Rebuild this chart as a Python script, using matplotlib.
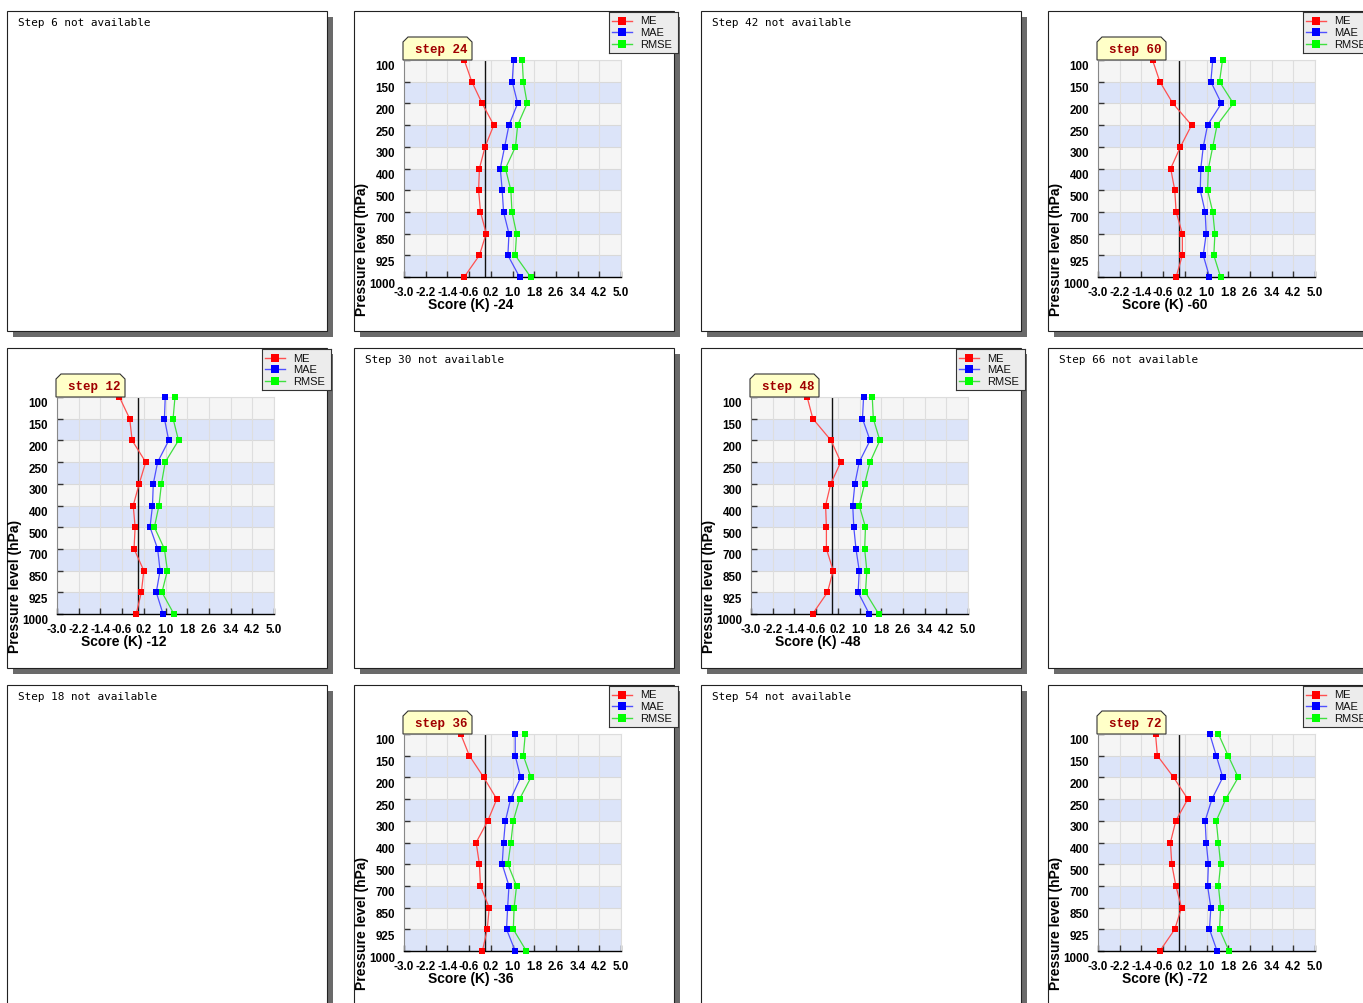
import matplotlib
matplotlib.use('Agg')
import matplotlib.pyplot as plt
import matplotlib.transforms as mtransforms
from matplotlib.patches import Rectangle, Polygon

plt.rcParams['font.family'] = ['Liberation Sans', 'DejaVu Sans']
plt.rcParams['axes.unicode_minus'] = False

#--Data--#
levels = ['100', '150', '200', '250', '300', '400', '500', '700', '850', '925', '1000']
x_ticks = [-3.0, -2.2, -1.4, -0.6, 0.2, 1.0, 1.8, 2.6, 3.4, 4.2, 5.0]
series_names = ['ME', 'MAE', 'RMSE']
series_colors = ['#ff0000', '#0000ff', '#00ff00']
line_colors = ['#ff5050', '#5050ff', '#40e040']

me_12 = [-0.70, -0.32, -0.23, 0.27, 0.03, -0.19, -0.12, -0.16, 0.20, 0.11, -0.08]
mae_12 = [0.99, 0.96, 1.12, 0.71, 0.55, 0.52, 0.43, 0.71, 0.80, 0.66, 0.91]
rmse_12 = [1.35, 1.28, 1.48, 0.99, 0.85, 0.76, 0.59, 0.96, 1.07, 0.87, 1.31]

me_24 = [-0.78, -0.50, -0.12, 0.31, -0.01, -0.22, -0.25, -0.18, 0.03, -0.22, -0.78]
mae_24 = [1.04, 0.99, 1.19, 0.87, 0.71, 0.55, 0.62, 0.67, 0.87, 0.83, 1.26]
rmse_24 = [1.36, 1.40, 1.54, 1.19, 1.11, 0.74, 0.94, 0.98, 1.15, 1.10, 1.67]

me_36 = [-0.91, -0.59, -0.06, 0.42, 0.09, -0.34, -0.22, -0.18, 0.14, 0.07, -0.11]
mae_36 = [1.10, 1.10, 1.30, 0.93, 0.74, 0.67, 0.62, 0.87, 0.82, 0.78, 1.10]
rmse_36 = [1.47, 1.40, 1.68, 1.26, 1.03, 0.94, 0.83, 1.15, 1.06, 1.03, 1.51]

me_48 = [-0.93, -0.72, -0.05, 0.31, -0.06, -0.25, -0.22, -0.22, 0.03, -0.18, -0.73]
mae_48 = [1.15, 1.11, 1.39, 0.99, 0.83, 0.75, 0.79, 0.87, 0.99, 0.95, 1.36]
rmse_48 = [1.47, 1.51, 1.75, 1.39, 1.19, 0.99, 1.22, 1.19, 1.27, 1.22, 1.71]

me_60 = [-0.99, -0.72, -0.24, 0.45, 0.04, -0.32, -0.17, -0.12, 0.11, 0.11, -0.12]
mae_60 = [1.23, 1.16, 1.55, 1.04, 0.88, 0.79, 0.77, 0.95, 0.99, 0.88, 1.11]
rmse_60 = [1.59, 1.48, 1.99, 1.39, 1.23, 1.07, 1.04, 1.23, 1.31, 1.27, 1.52]

me_72 = [-0.88, -0.81, -0.21, 0.31, -0.13, -0.33, -0.28, -0.13, 0.08, -0.17, -0.72]
mae_72 = [1.12, 1.36, 1.60, 1.20, 0.95, 0.99, 1.07, 1.04, 1.16, 1.11, 1.39]
rmse_72 = [1.44, 1.80, 2.17, 1.71, 1.36, 1.44, 1.52, 1.44, 1.52, 1.48, 1.83]

steps = [6, 12, 18, 24, 30, 36, 42, 48, 54, 60, 66, 72]
scores = {12: (me_12, mae_12, rmse_12), 24: (me_24, mae_24, rmse_24),
          36: (me_36, mae_36, rmse_36), 48: (me_48, mae_48, rmse_48),
          60: (me_60, mae_60, rmse_60), 72: (me_72, mae_72, rmse_72)}

#--Layout helpers (pixels, origin top-left)--#
W, H = 1363, 1004
fig = plt.figure(figsize=(W / 100, H / 100), dpi=100)


def frect(x, y, w, h):
    return [x / W, 1 - (y + h) / H, w / W, h / H]


def fpt(x, y):
    return (x / W, 1 - y / H)


def draw_panel(x0, y0, step):
    fig.add_artist(Rectangle(fpt(x0 + 6, y0 + 326), 320 / W, 320 / H, transform=fig.transFigure,
                             facecolor='#6a6a6a', edgecolor='none', zorder=-3))
    fig.add_artist(Rectangle(fpt(x0, y0 + 320), 320 / W, 320 / H, transform=fig.transFigure,
                             facecolor='white', edgecolor='#222222', lw=0.8, zorder=-2))

    if step not in scores:
        fig.text(*fpt(x0 + 11, y0 + 11), f'Step {step} not available', family='DejaVu Sans Mono',
                 fontsize=7.9, va='center', ha='left', color='#000000')
        return

    ypos = list(range(len(levels)))
    ax = fig.add_axes(frect(x0 + 50, y0 + 49, 217, 217))
    ax.set_facecolor('none')
    ax.set_xlim(x_ticks[0], x_ticks[-1])
    ax.set_ylim(len(levels) - 1, 0)
    for i in range(len(levels) - 1):
        ax.axhspan(i, i + 1, color='#f5f5f5' if i % 2 == 0 else '#dce4f9', lw=0, zorder=0)
        ax.axhline(i, color='#d9d9d9', lw=0.8, zorder=0.5)
    for xt in x_ticks:
        ax.axvline(xt, color='#dedede', lw=0.8, zorder=0.5)
    ax.axvline(0, color='#111111', lw=1.0, zorder=2)

    for vals, c, lc in zip(scores[step], series_colors, line_colors):
        ax.plot(vals, ypos, color=lc, lw=0.9, zorder=3)
        ax.plot(vals, ypos, 's', color=c, ms=4.4, mew=0, zorder=4, clip_on=False)

    ax.set_xticks(x_ticks)
    ax.set_xticklabels([f'{v:.1f}' for v in x_ticks], fontweight='bold')
    ax.set_yticks(ypos)
    ax.set_yticklabels(levels, fontweight='bold')
    ax.tick_params(direction='in', length=4, width=1, color='#333333', labelsize=8.4, pad=6.5)
    shift = mtransforms.ScaledTranslation(0, -0.05, fig.dpi_scale_trans)
    for lab in ax.get_yticklabels():
        lab.set_transform(lab.get_transform() + shift)
    for side in ['top', 'right']:
        ax.spines[side].set_color('#dddddd')
        ax.spines[side].set_linewidth(0.8)
    ax.spines['left'].set_color('#888888')
    ax.spines['left'].set_linewidth(0.8)
    ax.spines['bottom'].set_color('#000000')
    ax.spines['bottom'].set_linewidth(1.0)

    fig.text(*fpt(x0 + 117, y0 + 293), f'Score (K) -{step}', fontsize=10, fontweight='bold',
             ha='center', va='center')
    fig.text(*fpt(x0 + 8, y0 + 237), 'Pressure level (hPa)', fontsize=10, fontweight='bold',
             rotation=90, ha='center', va='center')

    # step label tab
    tab = [(49, 49), (49, 31), (54, 26), (113, 26), (118, 31), (118, 49)]
    fig.add_artist(Polygon([fpt(x0 + a, y0 + b) for a, b in tab], closed=True, transform=fig.transFigure,
                           facecolor='#ffffc8', edgecolor='#333333', lw=0.8, zorder=5))
    fig.text(*fpt(x0 + 87, y0 + 38), f'step {step}', family='Liberation Mono', fontweight='bold',
             fontsize=9, color='#a00000', ha='center', va='center', zorder=6)

    # legend box
    lg = fig.add_axes(frect(x0 + 255, y0 + 0.5, 69, 41))
    lg.set_zorder(5)
    lg.set_facecolor('#ececec')
    lg.set_xlim(0, 69)
    lg.set_ylim(41, 0)
    lg.set_xticks([])
    lg.set_yticks([])
    for sp in lg.spines.values():
        sp.set_color('#333333')
        sp.set_linewidth(0.8)
    for k, (name, c, lc) in enumerate(zip(series_names, series_colors, line_colors)):
        yy = 9 + 11.6 * k
        lg.plot([3, 23], [yy, yy], color=lc, lw=1)
        lg.plot([13], [yy], 's', color=c, ms=5.8, mew=0)
        lg.text(31, yy, name, fontsize=8, va='center', ha='left', color='#111111')


for i, step in enumerate(steps):
    col, row = divmod(i, 3)
    draw_panel(7 + 347 * col, 12 + 337 * row, step)

fig.savefig('out.png', dpi=100)
